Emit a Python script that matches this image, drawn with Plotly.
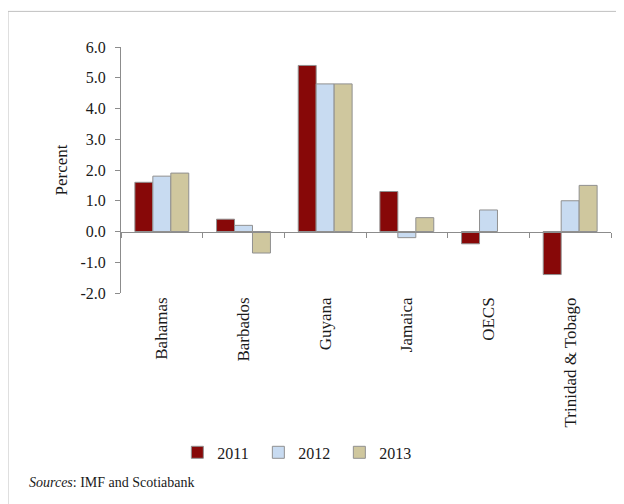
import plotly.graph_objects as go

categories = ["Bahamas", "Barbados", "Guyana", "Jamaica", "OECS", "Trinidad & Tobago"]
years = ["2011", "2012", "2013"]
v2011 = [1.6, 0.4, 5.4, 1.3, -0.4, -1.4]
v2012 = [1.8, 0.2, 4.8, -0.2, 0.7, 1.0]
v2013 = [1.9, -0.7, 4.8, 0.45, None, 1.5]
y_ticks = [-2, -1, 0, 1, 2, 3, 4, 5, 6]
y_tick_labels = ["-2.0", "-1.0", "0.0", "1.0", "2.0", "3.0", "4.0", "5.0", "6.0"]

colors = ["#870808", "#c8dbf1", "#cfc79e"]
series = [v2011, v2012, v2013]

FONT = "Liberation Serif"
TXT = "#1a1a1a"

fig = go.Figure()
for name, vals, col in zip(years, series, colors):
    fig.add_trace(go.Bar(
        x=categories, y=vals, name=name,
        marker=dict(color=col, line=dict(color="#909090", width=1)),
    ))

# invisible trace to carry the zero-crossing axis with boundary ticks
fig.add_trace(go.Scatter(x=categories, y=[0] * len(categories), xaxis="x2",
                         mode="markers", marker=dict(opacity=0),
                         showlegend=False, hoverinfo="skip"))

border = dict(color="#c0c0c0", width=1)

fig.update_layout(
    width=616, height=496,
    paper_bgcolor="white", plot_bgcolor="white",
    margin=dict(l=113, r=13, t=39, b=211, autoexpand=False),
    font=dict(family=FONT, size=16, color=TXT),
    barmode="group", bargap=0.34, bargroupgap=0.0,
    xaxis=dict(
        type="category", categoryarray=categories,
        showline=False, ticks="", tickangle=-90, automargin=False,
        tickfont=dict(family=FONT, size=17, color=TXT),
        showgrid=False, zeroline=False,
    ),
    xaxis2=dict(
        type="category", categoryarray=categories, overlaying="x",
        matches="x", anchor="free", position=0.25,
        showline=True, linecolor="#8c8c8c", linewidth=1,
        ticks="outside", tickson="boundaries", ticklen=5, tickcolor="#8c8c8c",
        showticklabels=False, showgrid=False, zeroline=False,
    ),
    yaxis=dict(
        range=[-2, 6], tickvals=y_ticks, ticktext=y_tick_labels,
        showline=True, linecolor="#8c8c8c", linewidth=1, automargin=False,
        ticks="outside", ticklen=5, tickcolor="#8c8c8c", ticklabelstandoff=6,
        showgrid=False, zeroline=False,
        title=dict(text="Percent", font=dict(family=FONT, size=17, color=TXT), standoff=8),
        tickfont=dict(family=FONT, size=16, color=TXT),
    ),
    legend=dict(
        orientation="h", x=0.115, xanchor="left", y=-0.648, yanchor="middle",
        font=dict(family=FONT, size=16, color=TXT),
        entrywidth=36, entrywidthmode="pixels", itemwidth=30,
        bgcolor="rgba(0,0,0,0)",
    ),
    annotations=[dict(
        text="<i>Sources</i>: IMF and Scotiabank",
        xref="paper", yref="paper", x=-0.192, y=-0.769,
        xanchor="left", yanchor="middle", showarrow=False,
        font=dict(family=FONT, size=14, color=TXT),
    )],
    shapes=[
        dict(type="line", xref="paper", yref="paper",
             x0=-0.2306, x1=1.4, y0=1.1448, y1=1.1448, line=border, layer="below"),
        dict(type="line", xref="paper", yref="paper",
             x0=-0.2306, x1=-0.2306, y0=-1.2, y1=1.1448, line=border, layer="below"),
    ],
)

fig.write_html("out.html")
